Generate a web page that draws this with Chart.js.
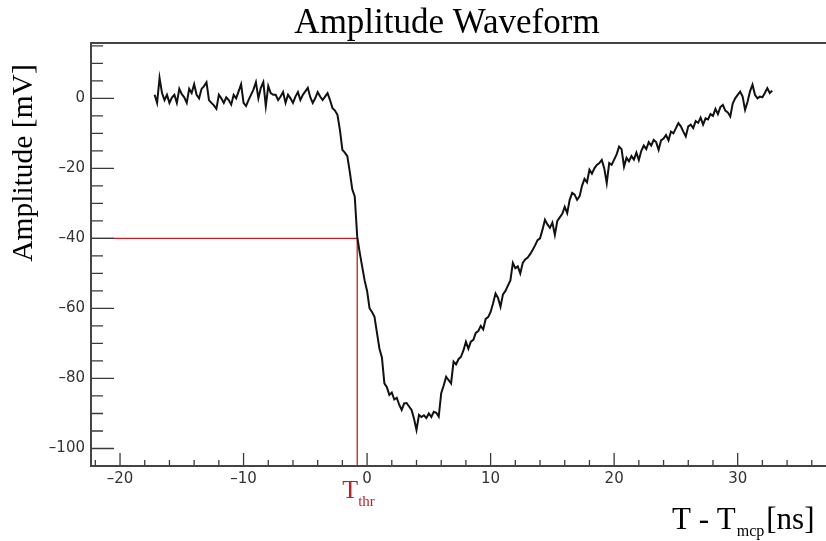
<!DOCTYPE html>
<html><head><meta charset="utf-8">
<script src="https://cdn.jsdelivr.net/npm/chart.js@4.4.1/dist/chart.umd.min.js"></script>
<style>html,body{margin:0;padding:0;background:#fff;} canvas{display:block;}</style>
</head><body>
<canvas id="c" width="826" height="541"></canvas>
<script>
// sampling grid of the digitizer (ns)
const T_START = -17.2;
const T_STEP = 0.2;
// amplitude samples (mV), one per T_STEP starting at T_START
const amplitude = [
  1.0, -1.3, 5.8, 1.5, -0.5, 1.0, -1.3, 0.2, 1.0, -1.3,        // -17.2
  2.7, 1.2, 0.3, -1.3, 2.7, 1.5, 4.0, 1.0, 0.0, 2.7,           // -15.2
  3.5, 4.6, -0.5, -1.3, -2.0, -3.0, 1.0, 0.0, -1.3, 0.3,       // -13.2
  -0.5, -1.8, 1.0, 0.0, 2.0, 4.0, -1.3, -2.2, -0.5, 1.0,       // -11.2
  2.5, 4.6, 0.0, 3.0, 4.6, -2.2, 3.5, 1.5, 1.0, 1.0,           // -9.2
  -0.5, 0.5, 1.8, -1.3, 1.0, 0.0, -1.3, 0.5, 1.8, -0.5,        // -7.2
  1.0, 2.0, 3.0, 0.3, -1.3, 0.0, 1.8, 0.5, -0.5, 0.5,          // -5.2
  1.5, -0.5, -2.8, -3.5, -4.7, -9.0, -14.7, -15.5, -16.5, -21.0, // -3.2
  -26.0, -28.0, -39.5, -44.0, -48.0, -52.0, -55.0, -60.0, -61.0, -62.4, // -1.2
  -67.0, -71.5, -74.0, -81.4, -82.5, -84.7, -84.0, -86.0, -85.5, -87.5, // 0.8
  -89.0, -87.1, -87.0, -88.0, -89.0, -91.5, -94.7, -90.4, -91.0, -90.5, // 2.8
  -91.3, -90.0, -91.0, -89.5, -89.8, -90.9, -84.2, -82.0, -79.5, -80.5, // 4.8
  -81.4, -75.2, -76.0, -74.5, -73.8, -72.0, -69.5, -71.5, -69.5, -69.0, // 6.8
  -67.0, -66.5, -65.0, -66.0, -63.0, -62.5, -61.0, -58.5, -55.7, -57.0, // 8.8
  -59.5, -56.0, -55.0, -53.5, -52.0, -47.0, -48.5, -48.0, -50.0, -47.0, // 10.8
  -46.0, -45.5, -44.5, -43.3, -42.0, -40.5, -40.0, -37.5, -34.7, -36.0, // 12.8
  -37.0, -35.5, -39.0, -35.0, -34.0, -33.0, -31.0, -32.8, -29.0, -27.0, // 14.8
  -27.5, -29.0, -28.0, -25.0, -23.0, -24.0, -20.4, -21.5, -20.0, -19.0, // 16.8
  -18.5, -17.6, -20.0, -24.2, -18.5, -19.0, -17.5, -16.0, -13.8, -14.5, // 18.8
  -19.5, -17.0, -18.0, -16.5, -17.5, -15.5, -17.6, -15.0, -13.5, -14.5, // 20.8
  -12.5, -13.5, -11.9, -12.5, -14.7, -12.0, -11.5, -10.5, -12.0, -9.5,  // 22.8
  -10.0, -8.5, -7.1, -8.0, -9.5, -10.9, -8.0, -7.5, -8.5, -6.5,         // 24.8
  -7.0, -5.5, -7.5, -5.7, -6.0, -4.5, -5.0, -3.0, -4.5, -2.5,           // 26.8
  -1.9, -3.5, -4.0, -5.2, -1.5, 0.0, 1.0, 1.9, 0.5, -3.3,               // 28.8
  -1.0, 2.0, 3.9, 1.0, 0.0, 0.5, 0.3, 1.5, 2.9, 1.5,                    // 30.8
  2.2                                                                   // 32.8
];
const thresholdTime = -0.8;       // T_thr (ns)
const thresholdAmplitude = -40;   // mV

const xMajorTicks = [-20, -10, 0, 10, 20, 30];
const xMinorTicks = [-22, -18, -16, -14, -12, -8, -6, -4, -2, 2, 4, 6, 8, 12, 14, 16, 18, 22, 24, 26, 28, 32, 34, 36];
const yMajorTicks = [-100, -80, -60, -40, -20, 0];
const yMinorTicks = [-95, -90, -85, -75, -70, -65, -55, -50, -45, -35, -30, -25, -15, -10, -5, 5, 10, 15];

const X_MIN = -22.35, X_MAX = 37.15;
const Y_MIN = -105, Y_MAX = 15.8;

const fmt = v => (v < 0 ? '\u2013' + Math.abs(v) : String(v));

const waveformPoints = amplitude.map((v, i) => ({ x: T_START + i * T_STEP, y: v }));
const thresholdPoints = [
  { x: X_MIN, y: thresholdAmplitude },
  { x: thresholdTime, y: thresholdAmplitude },
  { x: thresholdTime, y: Y_MIN }
];

const RED = '#c41e24';

const decor = {
  id: 'decor',
  afterDraw(chart) {
    const { ctx, chartArea: a, scales: { x, y } } = chart;
    ctx.save();
    // inward ticks
    ctx.strokeStyle = '#3a3a3a';
    ctx.lineWidth = 1.3;
    ctx.beginPath();
    xMajorTicks.forEach(v => { const p = x.getPixelForValue(v); ctx.moveTo(p, a.bottom); ctx.lineTo(p, a.bottom - 13); });
    xMinorTicks.forEach(v => { const p = x.getPixelForValue(v); ctx.moveTo(p, a.bottom); ctx.lineTo(p, a.bottom - 6); });
    yMajorTicks.forEach(v => { const p = y.getPixelForValue(v); ctx.moveTo(a.left, p); ctx.lineTo(a.left + 23, p); });
    yMinorTicks.forEach(v => { const p = y.getPixelForValue(v); ctx.moveTo(a.left, p); ctx.lineTo(a.left + 12, p); });
    ctx.stroke();
    // frame
    ctx.strokeStyle = '#444';
    ctx.lineWidth = 2;
    ctx.beginPath();
    ctx.moveTo(a.right, a.top); ctx.lineTo(a.left, a.top); ctx.lineTo(a.left, a.bottom); ctx.lineTo(a.right, a.bottom);
    ctx.stroke();

    // title
    ctx.fillStyle = '#000';
    ctx.textAlign = 'center';
    ctx.textBaseline = 'alphabetic';
    ctx.font = '35px "Liberation Serif"';
    ctx.fillText('Amplitude Waveform', 447, 33);

    // y title
    ctx.save();
    ctx.translate(32, 163);
    ctx.rotate(-Math.PI / 2);
    ctx.font = '29.5px "Liberation Serif"';
    ctx.textAlign = 'center';
    ctx.fillText('Amplitude [mV]', 0, 0);
    ctx.restore();

    // x title: T - T_mcp [ns]
    ctx.textAlign = 'left';
    ctx.font = '31px "Liberation Serif"';
    let cx = 672;
    ctx.fillText('T - T', cx, 529);
    cx += ctx.measureText('T - T').width + 1;
    ctx.font = '16px "Liberation Serif"';
    ctx.fillText('mcp', cx, 536);
    cx += ctx.measureText('mcp').width + 2;
    ctx.font = '31px "Liberation Serif"';
    ctx.fillText('[ns]', cx, 529);

    // threshold label T_thr
    ctx.fillStyle = RED;
    const tx = x.getPixelForValue(thresholdTime);
    ctx.font = '26px "Liberation Serif"';
    ctx.textAlign = 'left';
    const tw = ctx.measureText('T').width;
    ctx.fillText('T', tx - tw + 1, 498);
    ctx.font = '15px "Liberation Serif"';
    ctx.fillText('thr', tx + 1, 506);
    ctx.restore();
  }
};

new Chart(document.getElementById('c'), {
  type: 'scatter',
  data: {
    datasets: [
      { data: waveformPoints, showLine: true, borderColor: '#111', borderWidth: 2, pointRadius: 0, tension: 0 },
      { data: thresholdPoints, showLine: true, borderColor: RED, borderWidth: 1.3, pointRadius: 0, tension: 0 }
    ]
  },
  options: {
    responsive: false,
    animation: false,
    devicePixelRatio: 1,
    layout: { padding: { top: 43, left: 0, right: 0, bottom: 0 } },
    plugins: { legend: { display: false }, tooltip: { enabled: false }, title: { display: false } },
    scales: {
      x: {
        type: 'linear', min: X_MIN, max: X_MAX,
        afterFit(s) { s.height = 75; },
        afterBuildTicks(s) { s.ticks = xMajorTicks.map(v => ({ value: v })); },
        grid: { display: false, drawTicks: false },
        border: { display: false },
        ticks: { padding: 4, font: { family: 'DejaVu Sans', size: 15 }, color: '#333', callback: v => fmt(v), maxRotation: 0, autoSkip: false }
      },
      y: {
        type: 'linear', min: Y_MIN, max: Y_MAX,
        afterFit(s) { s.width = 91; },
        afterBuildTicks(s) { s.ticks = yMajorTicks.map(v => ({ value: v })); },
        grid: { display: false, drawTicks: false },
        border: { display: false },
        ticks: { padding: 6, font: { family: 'DejaVu Sans', size: 15 }, color: '#333', callback: v => fmt(v), autoSkip: false }
      }
    }
  },
  plugins: [decor]
});
</script>
</body></html>
